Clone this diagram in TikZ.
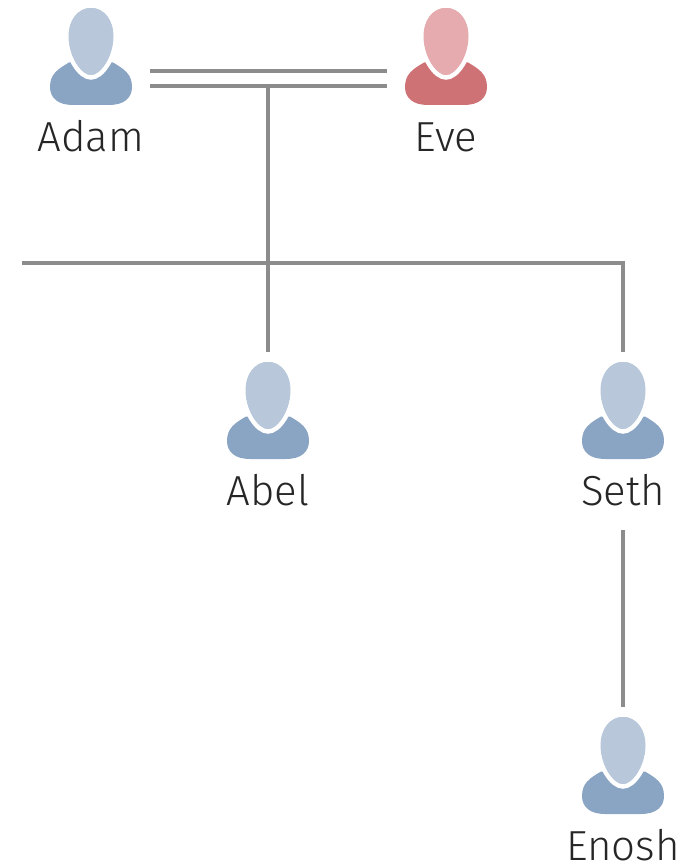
\documentclass[tikz,border=0pt]{standalone}
\usepackage{fontspec}
\setmainfont{Fira Sans}[UprightFont=* Light]
\definecolor{bluehead}{HTML}{B8C8DA}
\definecolor{bluebody}{HTML}{8AA4C4}
\definecolor{redhead}{HTML}{E5ABAE}
\definecolor{redbody}{HTML}{CF7276}
\definecolor{linkgray}{HTML}{8C8C8C}
\definecolor{labelink}{HTML}{262626}
\tikzset{
  personbox/.style={minimum width=118pt,minimum height=178pt,inner sep=0pt,outer sep=0pt,draw=none},
  namelabel/.style={anchor=base,font=\fontsize{42}{46}\selectfont,text=labelink,inner sep=0pt},
  link/.style={draw=linkgray,line width=3.2pt}
}
% #1 node name, #2 cx, #3 y offset, #4 head colour, #5 body colour, #6 text
\newcommand{\personicon}[6]{%
  \begin{scope}[shift={(#2,#3)}]
    \fill[#5] (-22,62.5) .. controls (-33,69) and (-41,74) .. (-41,87)
      .. controls (-41,98) and (-33,105) .. (-18,105) -- (18,105)
      .. controls (33,105) and (41,98) .. (41,87)
      .. controls (41,74) and (33,69) .. (22,62.5) -- cycle;
    \path[fill=#4,draw=white,line width=4.5pt] (0,5.5)
      .. controls (15,5.5) and (24.5,20) .. (24.5,36)
      .. controls (24.5,58) and (11,77.5) .. (0,77.5)
      .. controls (-11,77.5) and (-24.5,58) .. (-24.5,36)
      .. controls (-24.5,20) and (-15,5.5) .. (0,5.5) -- cycle;
    \fill[#4] (0,8)
      .. controls (14,8) and (22.5,21) .. (22.5,36)
      .. controls (22.5,56) and (10,75) .. (0,75)
      .. controls (-10,75) and (-22.5,56) .. (-22.5,36)
      .. controls (-22.5,21) and (-14,8) .. (0,8) -- cycle;
    \node[personbox] (#1) at (0,87) {};
    \node[namelabel] (#1name) at (0,151) {#6};
  \end{scope}}
\begin{document}
\begin{tikzpicture}[x=1pt,y=-1pt]
\useasboundingbox (0,0) rectangle (690,864);
\personicon{adam}{91}{0}{bluehead}{bluebody}{Adam}
\personicon{eve}{446}{0}{redhead}{redbody}{Eve}
\personicon{abel}{268}{354}{bluehead}{bluebody}{Abel}
\personicon{seth}{623}{354}{bluehead}{bluebody}{Seth}
\personicon{enosh}{623}{709}{bluehead}{bluebody}{Enosh}
\coordinate (leftend) at (22,263);
\coordinate (bus) at (abel.north |- leftend);
\coordinate (couple) at (abel.north |- 0,86);
\draw[link] ([yshift=16pt]adam.east) -- ([yshift=16pt]eve.west);
\draw[link] ([yshift=1pt]adam.east) -- ([yshift=1pt]eve.west);
\draw[link] (couple) -- (abel.north);
\draw[link] (leftend) -| (seth.north);
\draw[link] (seth.south) -- (enosh.north);
\end{tikzpicture}
\end{document}
